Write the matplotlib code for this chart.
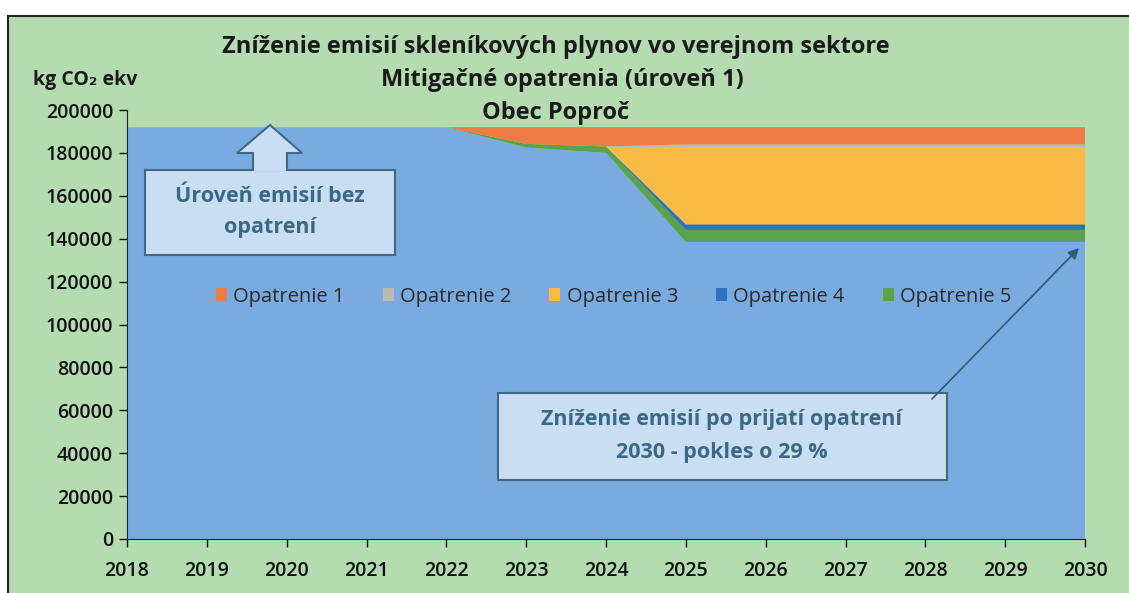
import matplotlib
matplotlib.use("Agg")
import matplotlib.pyplot as plt
from matplotlib.patches import Rectangle, Polygon, FancyArrowPatch

# data (kg CO2 ekv)
years = [2018, 2019, 2020, 2021, 2022, 2023, 2024, 2025, 2026, 2027, 2028, 2029, 2030]
zostatok = [192000, 192000, 192000, 192000, 192000, 182500, 180000, 138500, 138500, 138500, 138500, 138500, 138500]
opatrenie1 = [0, 0, 0, 0, 0, 7800, 9000, 8000, 8000, 8000, 8000, 8000, 8000]
opatrenie2 = [0, 0, 0, 0, 0, 0, 0, 1400, 1400, 1400, 1400, 1400, 1400]
opatrenie3 = [0, 0, 0, 0, 0, 0, 0, 35900, 35900, 35900, 35900, 35900, 35900]
opatrenie4 = [0, 0, 0, 0, 0, 0, 0, 2600, 2600, 2600, 2600, 2600, 2600]
opatrenie5 = [0, 0, 0, 0, 0, 1700, 3000, 5600, 5600, 5600, 5600, 5600, 5600]
yticks = [0, 20000, 40000, 60000, 80000, 100000, 120000, 140000, 160000, 180000, 200000]

title_lines = ["Zníženie emisií skleníkových plynov vo verejnom sektore",
               "Mitigačné opatrenia (úroveň 1)",
               "Obec Poproč"]

plt.rcParams['font.family'] = ['Open Sans', 'DejaVu Sans']

W, H = 1129, 593
fig = plt.figure(figsize=(W / 100, H / 100), dpi=100)
fig.patch.set_facecolor('white')

def fx(px):
    return px / W

def fy(py):
    return 1 - py / H

# green background with black frame
fig.patches.append(Rectangle((fx(8), -0.01), 1.02 - fx(8), fy(16) + 0.01, transform=fig.transFigure,
                             facecolor='#b5dcb1', edgecolor='#222222', linewidth=1.5, zorder=-10))

ax = fig.add_axes([fx(127), 1 - 539 / H, (1085 - 127) / W, (539 - 110) / H])
ax.set_facecolor('none')
ax.set_zorder(1)

colors = ['#79abe0', '#5aa24b', '#2c71bd', '#f8bb45', '#bdb8b0', '#ef7b45']
polys = ax.stackplot(years, zostatok, opatrenie5, opatrenie4, opatrenie3, opatrenie2, opatrenie1,
                     colors=colors, linewidth=0)

ax.set_xlim(2018, 2030)
ax.set_ylim(0, 200000)
ax.set_xticks(years)
ax.set_yticks(yticks)
ax.tick_params(axis='both', labelsize=14, colors='#111111', length=6, width=1)
for lab in ax.get_xticklabels() + ax.get_yticklabels():
    lab.set_fontweight('semibold')
ax.tick_params(axis='x', pad=10)
ax.tick_params(axis='y', pad=4)
ax.spines['top'].set_visible(False)
ax.spines['right'].set_visible(False)
ax.spines['left'].set_color('#222222')
ax.spines['bottom'].set_color('#222222')

# legend (Opatrenie 1..5)
handles = [polys[5], polys[4], polys[3], polys[2], polys[1]]
labels = ['Opatrenie 1', 'Opatrenie 2', 'Opatrenie 3', 'Opatrenie 4', 'Opatrenie 5']
leg = ax.legend(handles, labels, ncol=5, loc='center', bbox_to_anchor=(0.508, 0.565),
                frameon=False, fontsize=14.5, handlelength=0.55, handleheight=0.55,
                handletextpad=0.3, columnspacing=1.9)
for t in leg.get_texts():
    t.set_color('#2a2a2a')

# title
tkw = dict(ha='center', va='center', fontsize=17, fontweight='bold', color='#1a1a1a')
fig.text(fx(556), fy(47), title_lines[0], **tkw)
fig.text(fx(562), fy(80), title_lines[1], **tkw)
fig.text(fx(556), fy(113), title_lines[2], **tkw)
fig.text(fx(33), fy(80), 'kg CO₂ ekv', ha='left', va='center', fontsize=14, fontweight='bold', color='#1a1a1a')

box_fc = '#c9ddf3'
box_ec = '#3f6a86'
txt_c = '#3a6984'

# box 1 with up arrow
fig.patches.append(Rectangle((fx(145), fy(255)), fx(395) - fx(145), fy(170) - fy(255),
                             transform=fig.transFigure, facecolor=box_fc, edgecolor=box_ec,
                             linewidth=1.5, zorder=5))
arrow_px = [(253, 171), (253, 153), (237, 153), (270, 125), (302, 153), (287, 153), (287, 171)]
fig.patches.append(Polygon([(fx(x), fy(y)) for x, y in arrow_px], closed=False,
                           transform=fig.transFigure, facecolor=box_fc, edgecolor=box_ec,
                           linewidth=1.5, zorder=5))
fig.text(fx(270), fy(212), 'Úroveň emisií bez\nopatrení', ha='center', va='center',
         fontsize=15.5, fontweight='bold', color=txt_c, linespacing=1.6, zorder=6)

# box 2 with arrow to 2030
fig.patches.append(Rectangle((fx(498), fy(480)), fx(947) - fx(498), fy(393) - fy(480),
                             transform=fig.transFigure, facecolor=box_fc, edgecolor=box_ec,
                             linewidth=1.5, zorder=5))
fig.text(fx(722), fy(436), 'Zníženie emisií po prijatí opatrení\n2030 - pokles o 29 %', ha='center',
         va='center', fontsize=15.5, fontweight='bold', color=txt_c, linespacing=1.7, zorder=6)
fig.add_artist(FancyArrowPatch((fx(930), fy(401)), (fx(1081), fy(246)),
                               transform=fig.transFigure, arrowstyle='-|>',
                               mutation_scale=16, color='#2f5a78',
                               linewidth=1.2, zorder=6))

fig.savefig('out.png', dpi=100)
